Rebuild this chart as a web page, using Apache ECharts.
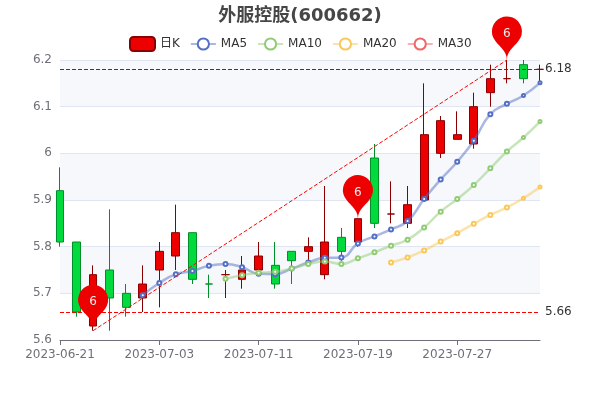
<!DOCTYPE html>
<html><head><meta charset="utf-8">
<script src="https://cdn.jsdelivr.net/npm/echarts@6/dist/echarts.min.js"></script>
<style>html,body{margin:0;padding:0;background:#fff}#c{width:600px;height:400px}</style></head>
<body><div id="c"></div>
<script>
const titleText = '外服控股(600662)';
const dates = ['2023-06-21','2023-06-26','2023-06-27','2023-06-28','2023-06-29','2023-06-30','2023-07-03','2023-07-04','2023-07-05','2023-07-06','2023-07-07','2023-07-10','2023-07-11','2023-07-12','2023-07-13','2023-07-14','2023-07-17','2023-07-18','2023-07-19','2023-07-20','2023-07-21','2023-07-24','2023-07-25','2023-07-26','2023-07-27','2023-07-28','2023-07-31','2023-08-01','2023-08-02','2023-08-03'];
// open, close, low, high
const kline = [
[5.92,5.81,5.80,5.97],[5.81,5.66,5.65,5.81],[5.63,5.74,5.62,5.76],[5.75,5.69,5.62,5.88],[5.70,5.67,5.65,5.72],
[5.69,5.72,5.66,5.76],[5.75,5.79,5.67,5.81],[5.78,5.83,5.75,5.89],[5.83,5.73,5.72,5.83],[5.72,5.72,5.69,5.74],
[5.74,5.74,5.69,5.75],[5.73,5.75,5.71,5.78],[5.75,5.78,5.74,5.81],[5.76,5.72,5.71,5.81],[5.79,5.77,5.72,5.79],
[5.79,5.80,5.77,5.82],[5.74,5.81,5.73,5.93],[5.82,5.79,5.77,5.84],[5.81,5.86,5.80,5.86],[5.99,5.85,5.84,6.02],
[5.87,5.87,5.85,5.94],[5.85,5.89,5.84,5.93],[5.90,6.04,5.90,6.15],[6.00,6.07,5.99,6.08],[6.03,6.04,6.03,6.09],
[6.02,6.10,6.01,6.13],[6.13,6.16,6.10,6.19],[6.16,6.16,6.15,6.20],[6.19,6.16,6.15,6.20],[6.18,6.18,6.15,6.19]];
const ma5 = ['-','-','-','-','-',5.696,5.722,5.741,5.748,5.759,5.763,5.756,5.742,5.741,5.753,5.766,5.776,5.777,5.807,5.822,5.837,5.855,5.902,5.944,5.982,6.027,6.084,6.106,6.124,6.151];
const ma10 = ['-','-','-','-','-','-','-','-','-','-',5.731,5.739,5.744,5.746,5.753,5.763,5.768,5.763,5.775,5.788,5.802,5.815,5.841,5.875,5.902,5.932,5.968,6.004,6.034,6.068];
const ma20 = ['-','-','-','-','-','-','-','-','-','-','-','-','-','-','-','-','-','-','-','-',5.766,5.777,5.792,5.811,5.829,5.849,5.868,5.884,5.904,5.928];
const ma30 = dates.map(() => '-');
const pins = [[2,5.625,6],[18,5.86,6],[27,6.2,6]];
const lineHigh = 6.18, lineLow = 5.66;
const trend = [[2,5.62],[27,6.2]];

const font='DejaVu Sans, Noto Sans CJK SC';
const up='#ec0000',down='#00da3c',upB='#8A0000',downB='#008F28';
const line=(name,data,color)=>({name,type:'line',data,smooth:true,color,
  symbolSize:(v,p)=>p.dataIndex>=28?3:4,
  itemStyle:{borderWidth:1.5},
  lineStyle:{width:2.5,opacity:0.5,color}});
const chart=echarts.init(document.getElementById('c'),null,{renderer:'canvas'});
chart.setOption({
  animation:false,
  textStyle:{fontFamily:font},
  title:{text:titleText,left:'center',top:2,textStyle:{fontSize:18,fontWeight:'bold',color:'#464646',fontFamily:font}},
  legend:{top:31,left:124,itemGap:10,data:['日K','MA5','MA10','MA20','MA30'],textStyle:{color:'#333',fontSize:12,fontFamily:font}},
  grid:{left:60,right:60,top:60,bottom:60},
  xAxis:{type:'category',data:dates,boundaryGap:false,axisTick:{interval:5},axisLabel:{interval:5,margin:9,color:'#6E7079',fontSize:12,fontFamily:font},axisLine:{lineStyle:{color:'#6E7079'}}},
  yAxis:{type:'value',min:5.6,max:6.2,interval:0.1,scale:true,axisLabel:{padding:[1,0,0,0],color:'#6E7079',fontSize:12,fontFamily:font},
    splitLine:{show:true,lineStyle:{color:'#E0E6F1'}},splitArea:{show:true,areaStyle:{color:['rgba(250,250,250,0.05)','rgba(210,219,238,0.2)']}},axisLine:{show:false},axisTick:{show:false}},
  series:[
   {name:'日K',type:'candlestick',data:kline,clip:false,itemStyle:{color:up,color0:down,borderColor:upB,borderColor0:downB},
    markPoint:{symbol:'pin',symbolSize:50,itemStyle:{color:up,borderWidth:0},label:{color:'#eee',fontSize:12,fontFamily:font},
      data:pins.map(p=>({coord:[p[0],p[1]],value:p[2]}))},
    markLine:{symbol:'none',silent:true,animation:false,
      label:{position:'end',color:'#333',fontSize:12,fontFamily:font},
      data:[
       {yAxis:lineLow,lineStyle:{color:'#f00',type:'dashed',width:1},label:{formatter:String(lineLow)}},
       {yAxis:lineHigh,lineStyle:{color:'#c00',type:'dashed',width:1},label:{formatter:String(lineHigh)}},
       [{coord:trend[0],lineStyle:{color:'#f00',type:'dashed',width:1},label:{show:false}},{coord:trend[1]}]
      ]}
   },
   line('MA5',ma5,'#5470c6'),
   line('MA10',ma10,'#91cc75'),
   line('MA20',ma20,'#fac858'),
   line('MA30',ma30,'#ee6666')
  ]
});
</script></body></html>
